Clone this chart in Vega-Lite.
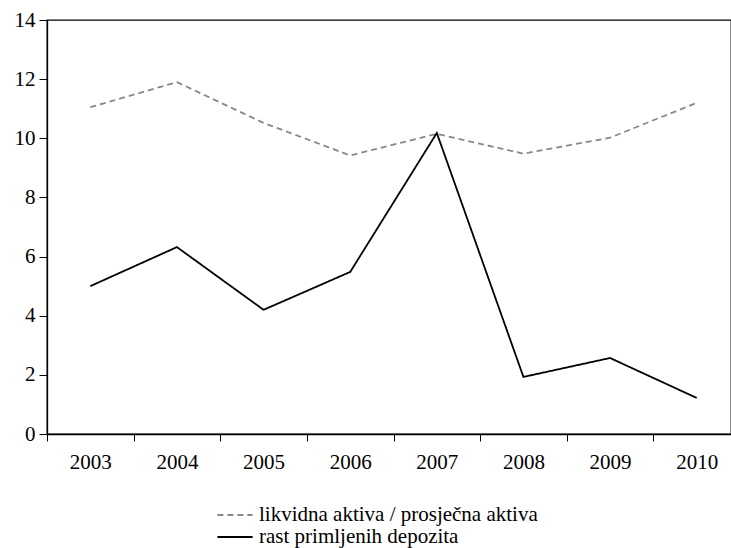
{
  "$schema": "https://vega.github.io/schema/vega-lite/v6.json",
  "autosize": {"type": "none"},
  "padding": {"left": 47, "top": 20, "right": 0, "bottom": 114},
  "width": 684,
  "height": 414,
  "background": "white",
  "config": {
    "font": "Liberation Serif",
    "view": {"stroke": "black", "strokeWidth": 1.3}
  },
  "data": {
    "values": [
      {"year": "2003", "series": "likvidna aktiva / prosječna aktiva", "value": 11.05},
      {"year": "2004", "series": "likvidna aktiva / prosječna aktiva", "value": 11.9},
      {"year": "2005", "series": "likvidna aktiva / prosječna aktiva", "value": 10.52},
      {"year": "2006", "series": "likvidna aktiva / prosječna aktiva", "value": 9.42},
      {"year": "2007", "series": "likvidna aktiva / prosječna aktiva", "value": 10.15},
      {"year": "2008", "series": "likvidna aktiva / prosječna aktiva", "value": 9.48},
      {"year": "2009", "series": "likvidna aktiva / prosječna aktiva", "value": 10.02},
      {"year": "2010", "series": "likvidna aktiva / prosječna aktiva", "value": 11.2},
      {"year": "2003", "series": "rast primljenih depozita", "value": 5.0},
      {"year": "2004", "series": "rast primljenih depozita", "value": 6.32},
      {"year": "2005", "series": "rast primljenih depozita", "value": 4.2},
      {"year": "2006", "series": "rast primljenih depozita", "value": 5.48},
      {"year": "2007", "series": "rast primljenih depozita", "value": 10.18},
      {"year": "2008", "series": "rast primljenih depozita", "value": 1.93},
      {"year": "2009", "series": "rast primljenih depozita", "value": 2.57},
      {"year": "2010", "series": "rast primljenih depozita", "value": 1.22}
    ]
  },
  "mark": {"type": "line", "strokeWidth": 1.8},
  "encoding": {
    "x": {
      "field": "year", "type": "ordinal",
      "scale": {"type": "band", "paddingInner": 0, "paddingOuter": 0, "range": [0, 693]},
      "axis": {
        "title": null, "labelAngle": 0, "tickBand": "extent",
        "domainColor": "black", "domainWidth": 1.3,
        "tickColor": "black", "tickSize": 7, "tickWidth": 1,
        "labelFontSize": 21, "labelColor": "black", "labelPadding": 10,
        "grid": false
      }
    },
    "y": {
      "field": "value", "type": "quantitative",
      "scale": {"domain": [0, 14], "nice": false},
      "axis": {
        "title": null, "values": [0, 2, 4, 6, 8, 10, 12, 14],
        "domainColor": "black", "domainWidth": 1.3,
        "tickColor": "black", "tickSize": 8, "tickWidth": 1,
        "labelFontSize": 21, "labelColor": "black", "labelPadding": 4,
        "grid": false
      }
    },
    "color": {
      "field": "series", "type": "nominal",
      "scale": {"domain": ["likvidna aktiva / prosječna aktiva", "rast primljenih depozita"], "range": ["#888888", "#000000"]},
      "legend": {
        "title": null, "orient": "none", "legendX": 176, "legendY": 483,
        "direction": "vertical", "symbolType": "M-1.6,0H1.6", "symbolSize": 484,
        "symbolStrokeWidth": 2, "labelFontSize": 21, "labelColor": "black",
        "labelLimit": 0, "rowPadding": 0, "labelOffset": 12
      }
    },
    "strokeDash": {
      "field": "series", "type": "nominal",
      "scale": {"domain": ["likvidna aktiva / prosječna aktiva", "rast primljenih depozita"], "range": [[6, 4], [1, 0]]},
      "legend": null
    }
  }
}
